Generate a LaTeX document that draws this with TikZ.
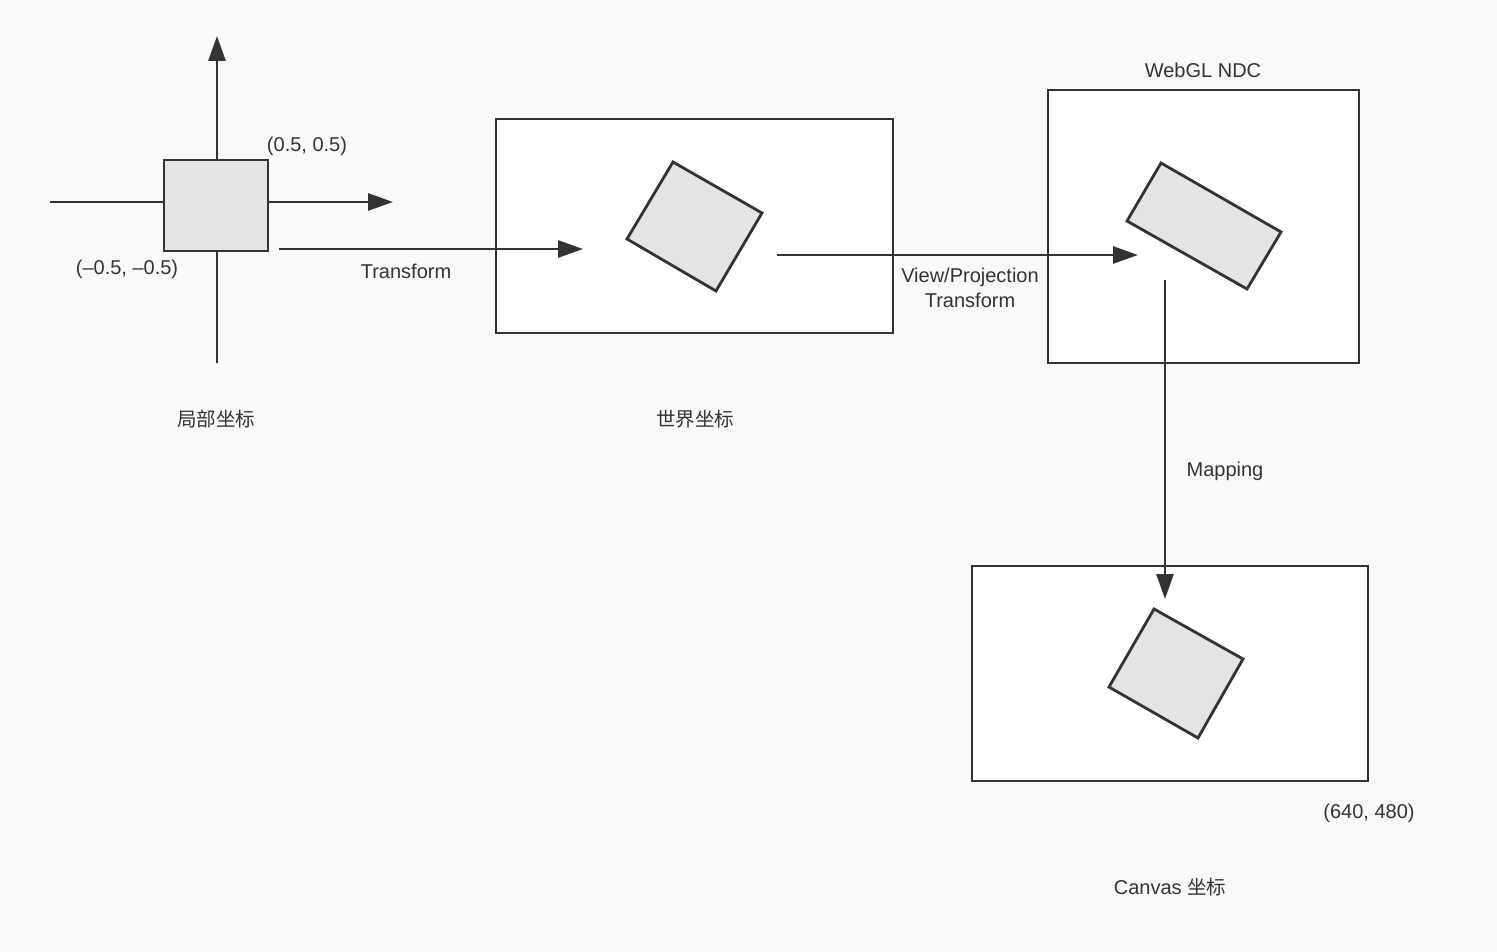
\documentclass[tikz,border=0pt]{standalone}
\usepackage{fontspec}
\setmainfont{Liberation Sans}
\newfontfamily\cjk{Noto Sans CJK SC}
\usetikzlibrary{arrows.meta}
\definecolor{ink}{HTML}{333333}
\definecolor{bgc}{HTML}{F9F9F9}
\definecolor{shade}{HTML}{E4E4E4}
\begin{document}
\begin{tikzpicture}[x=1pt,y=-1pt,
  frame/.style={draw=ink, line width=2.8pt, fill=white, inner sep=0pt, outer sep=0pt, anchor=north west},
  tile/.style={draw=ink, line width=2.8pt, fill=shade, line join=miter},
  conn/.style={draw=ink, line width=2.8pt, -{Triangle[length=25pt,width=17pt]}},
  axis/.style={draw=ink, line width=2.8pt},
  lbl/.style={text=ink, inner sep=0pt, font=\fontsize{20}{25}\selectfont},
  zh/.style={text=ink, inner sep=0pt, font=\cjk\fontsize{19.5}{23}\selectfont}]
\fill[bgc] (0,0) rectangle (1497,952);
\useasboundingbox (0,0) rectangle (1497,952);

% local coordinates
\coordinate (yb) at (217,363);
\coordinate (yt) at (217,36);
\coordinate (xl) at (50,202);
\coordinate (xr) at (393,202);
\draw[axis, -{Triangle[length=25pt,width=17pt]}] (yb) -- (yt);
\draw[axis, -{Triangle[length=25pt,width=17pt]}] (xl) -- (xr);
\node[frame, fill=shade, minimum width=104pt, minimum height=91pt] (local) at (164,160) {};
\node[lbl] (pp) at (307,146) {(0.5, 0.5)};
\node[lbl] (nn) at (127,269) {(\textendash0.5, \textendash0.5)};
\node[zh] (lz) at (216,419) {局部坐标};

% world
\node[frame, minimum width=397pt, minimum height=214pt] (world) at (496,119) {};
\draw[tile] (673,162) -- (762,213) -- (716,291) -- (627,239) -- cycle;
\node[zh] (wz) at (695,419) {世界坐标};

% NDC
\node[frame, minimum width=311pt, minimum height=273pt] (ndc) at (1048,90) {};
\draw[tile] (1161,163) -- (1281,232) -- (1247,289) -- (1127,221) -- cycle;
\node[lbl] (ndcl) at (1203,70) {WebGL NDC};

% canvas
\node[frame, minimum width=396pt, minimum height=215pt] (canvas) at (972,566) {};
\draw[tile] (1154,609) -- (1243,659) -- (1198,738) -- (1109,687) -- cycle;
\node[lbl] (cl) at (1369,813) {(640, 480)};
\node[lbl] (cz) at (1170,887) {Canvas {\cjk\fontsize{19.5}{23}\selectfont 坐标}};

% connectors
\coordinate (t1s) at (279,249);
\coordinate (t1e) at (583,249);
\draw[conn] (t1s) -- (t1e);
\node[lbl] (t1l) at (406,271) {Transform};

\coordinate (t2s) at (777,255);
\coordinate (t2e) at (1138,255);
\draw[conn] (t2s) -- (t2e);
\node[lbl, align=center] (t2l) at (970,288) {View/Projection\\Transform};

\coordinate (t3s) at (1165,280);
\coordinate (t3e) at (1165,599);
\draw[conn] (t3s) -- (t3e);
\node[lbl] (t3l) at (1225,471) {Mapping};
\end{tikzpicture}
\end{document}
